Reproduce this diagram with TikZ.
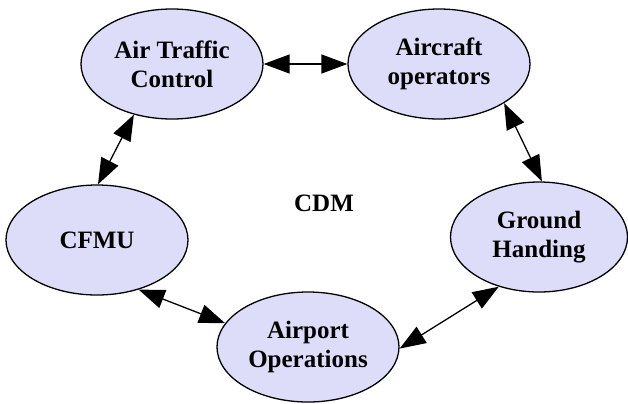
\documentclass[tikz,border=0pt]{standalone}
\usepackage{fontspec}
\setmainfont{Liberation Serif}
\usetikzlibrary{shapes.geometric,arrows.meta}
\definecolor{nodefill}{RGB}{221,221,250}
\tikzset{
  ent/.style={ellipse,draw=black,line width=1.3bp,fill=nodefill,minimum width=182bp,minimum height=110bp,inner sep=0pt,align=center,font=\fontsize{25bp}{29bp}\selectfont\bfseries},
  link/.style={line width=1.3bp,{Triangle[length=26bp,width=19bp]}-{Triangle[length=26bp,width=19bp]}}
}
\begin{document}
\begin{tikzpicture}[x=1bp,y=-1bp]
\useasboundingbox (0,0) rectangle (628,403);
\node[ent] (atc) at (172,64) {Air Traffic\\Control};
\node[ent] (ao) at (439,64) {Aircraft\\operators};
\node[ent,minimum width=177bp] (gh) at (539,237) {Ground\\Handing};
\node[ent] (apo) at (308,347) {Airport\\Operations};
\node[ent] (cfmu) at (97,240) {CFMU};
\node[font=\fontsize{25bp}{29bp}\selectfont\bfseries] (cdm) at (324,203) {CDM};
\draw[link] (atc.east) -- (ao.west);
\draw[link] (ao.-31) -- (gh.87);
\draw[link] (gh.231) -- (apo.-1);
\draw[link] (apo.164) -- (cfmu.-50);
\draw[link] (cfmu.89) -- (atc.233);
\end{tikzpicture}
\end{document}
